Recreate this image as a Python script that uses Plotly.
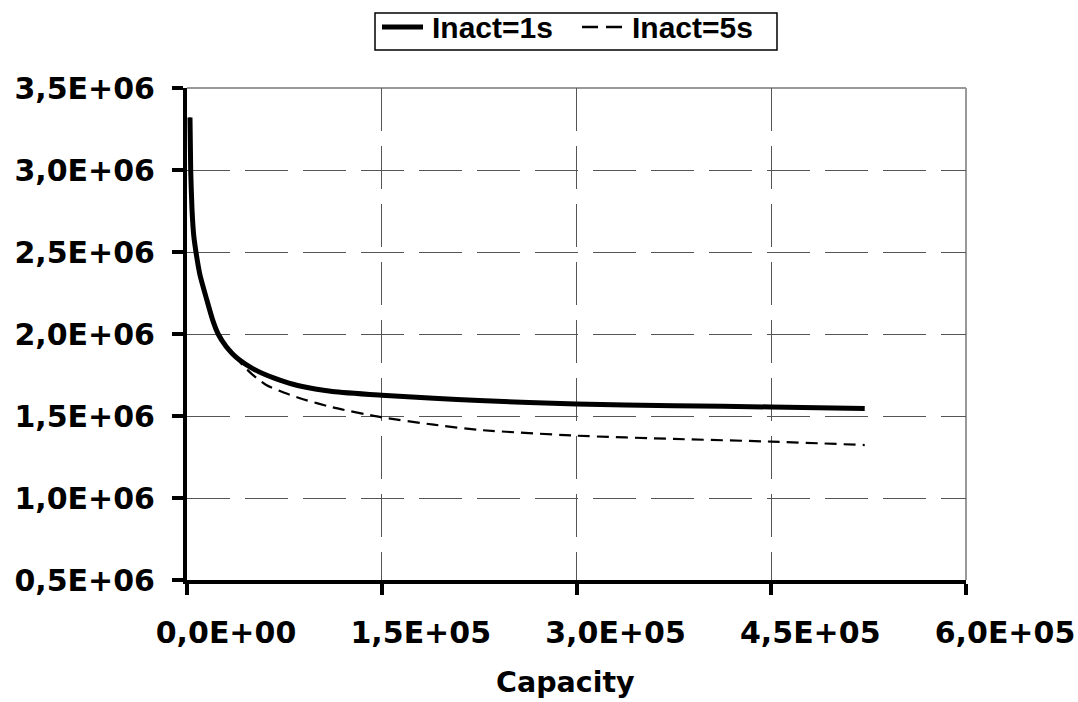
import plotly.graph_objects as go

# ---- data ----
cap_1s = [2300, 2850, 3850, 5200, 6900, 10000, 15200, 20000, 24000, 30000, 35000, 40000,
          50000, 61000, 75000, 87000, 112000, 150000, 190000, 225000, 300000, 375000,
          450000, 522000]
val_1s = [3.32e6, 3.0e6, 2.76e6, 2.6e6, 2.5e6, 2.36e6, 2.21e6, 2.08e6, 2.0e6, 1.925e6,
          1.88e6, 1.845e6, 1.792e6, 1.75e6, 1.71e6, 1.683e6, 1.65e6, 1.627e6, 1.608e6,
          1.594e6, 1.573e6, 1.563e6, 1.555e6, 1.545e6]

cap_5s = [2300, 2850, 3850, 5200, 6900, 10000, 15200, 20000, 24000, 30000, 35000, 43000,
          50000, 61000, 75000, 87000, 112000, 150000, 190000, 225000, 300000, 375000,
          450000, 522000]
val_5s = [3.32e6, 3.0e6, 2.76e6, 2.6e6, 2.5e6, 2.36e6, 2.21e6, 2.08e6, 2.0e6, 1.925e6,
          1.88e6, 1.81e6, 1.755e6, 1.689e6, 1.642e6, 1.608e6, 1.553e6, 1.492e6, 1.447e6,
          1.415e6, 1.38e6, 1.36e6, 1.344e6, 1.323e6]

series_names = ["Inact=1s", "Inact=5s"]

x_ticks = [0, 150000, 300000, 450000, 600000]
x_tick_text = ["0,0E+00", "1,5E+05", "3,0E+05", "4,5E+05", "6,0E+05"]
y_ticks = [0.5e6, 1.0e6, 1.5e6, 2.0e6, 2.5e6, 3.0e6, 3.5e6]
y_tick_text = ["0,5E+06", "1,0E+06", "1,5E+06", "2,0E+06", "2,5E+06", "3,0E+06", "3,5E+06"]
x_title = "Capacity"

FONT = "Liberation Sans, Arial, Helvetica, sans-serif"
WIDE_FONT = "DejaVu Sans, Verdana, sans-serif"

# plot-area geometry in pixels (used only to place the hand-made legend / title)
W, H = 1078, 702
L, R, T, B = 187, 966, 88, 580


def px(X):
    return (X - L) / (R - L)


def py(Y):
    return (B - Y) / (B - T)


fig = go.Figure()
fig.add_trace(go.Scatter(
    x=cap_5s, y=val_5s, mode="lines", name=series_names[1], showlegend=False,
    line=dict(color="black", width=2.2, dash="12px,7px", shape="spline", smoothing=0.6),
))
fig.add_trace(go.Scatter(
    x=cap_1s, y=val_1s, mode="lines", name=series_names[0], showlegend=False,
    line=dict(color="black", width=5, shape="spline", smoothing=0.6),
))

# top and right gray border
fig.add_shape(type="line", xref="paper", yref="paper", x0=0, x1=1, y0=1, y1=1,
              line=dict(color="#999999", width=2), layer="below")
fig.add_shape(type="line", xref="paper", yref="paper", x0=1, x1=1, y0=0, y1=1,
              line=dict(color="#999999", width=2), layer="below")

# legend (box, samples, labels)
fig.add_shape(type="rect", xref="paper", yref="paper",
              x0=px(375), x1=px(777), y0=py(50), y1=py(13),
              line=dict(color="black", width=1.5), fillcolor="white")
fig.add_shape(type="line", xref="paper", yref="paper",
              x0=px(382), x1=px(423), y0=py(27), y1=py(27),
              line=dict(color="black", width=5))
fig.add_shape(type="line", xref="paper", yref="paper",
              x0=px(582), x1=px(622), y0=py(27), y1=py(27),
              line=dict(color="black", width=2.5, dash="16px,8px"))
fig.add_annotation(xref="paper", yref="paper", x=px(430), y=py(28),
                   xanchor="left", yanchor="middle", showarrow=False,
                   text="<b>%s</b>" % series_names[0],
                   font=dict(family=FONT, size=30, color="black"))
fig.add_annotation(xref="paper", yref="paper", x=px(630), y=py(28),
                   xanchor="left", yanchor="middle", showarrow=False,
                   text="<b>%s</b>" % series_names[1],
                   font=dict(family=FONT, size=30, color="black"))

# x-axis title
fig.add_annotation(xref="paper", yref="paper", x=px(565), y=py(682),
                   xanchor="center", yanchor="middle", showarrow=False,
                   text="<b>%s</b>" % x_title,
                   font=dict(family=WIDE_FONT, size=28.5, color="black"))

fig.update_layout(
    width=W, height=H,
    margin=dict(l=L, r=W - R, t=T, b=H - B, autoexpand=False),
    paper_bgcolor="white", plot_bgcolor="white",
    font=dict(family=FONT, size=30, color="black"),
    showlegend=False,
)

fig.update_xaxes(
    range=[0, 600000], tickvals=x_ticks, ticktext=x_tick_text,
    tickfont=dict(family=WIDE_FONT, size=30, color="black", weight="bold"),
    showline=True, linecolor="black", linewidth=4,
    ticks="outside", ticklen=11, tickwidth=4, tickcolor="black",
    showgrid=True, gridcolor="#555555", gridwidth=1, griddash="43px,15px",
    zeroline=False, automargin=False,
    ticklabelstandoff=12, ticklabelshift=39,
)
fig.update_yaxes(
    range=[0.5e6, 3.5e6], tickvals=y_ticks, ticktext=y_tick_text,
    tickfont=dict(family=WIDE_FONT, size=30, color="black", weight="bold"),
    showline=True, linecolor="black", linewidth=4,
    ticks="outside", ticklen=11, tickwidth=4, tickcolor="black",
    showgrid=True, gridcolor="#555555", gridwidth=1, griddash="43px,15px",
    zeroline=False, automargin=False,
    ticklabelstandoff=11,
)

fig.write_html("out.html", config={"displayModeBar": False},
               post_script="document.body.style.margin='0px';")
